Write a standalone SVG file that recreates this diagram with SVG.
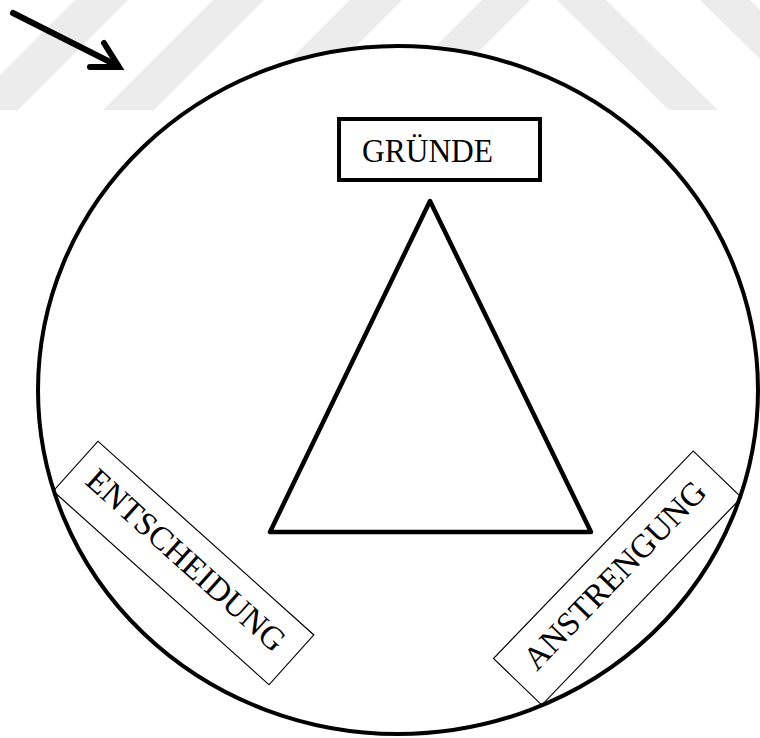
<svg xmlns="http://www.w3.org/2000/svg" width="760" height="738" viewBox="0 0 760 738">
  <style>
    .wm { fill: #ececec; stroke: none; }
    .thick { fill: none; stroke: #000; stroke-width: 4.5; stroke-linejoin: round; }
    .thin { fill: none; stroke: #000; stroke-width: 1.2; }
    .lbl { font-family: "Liberation Serif", "Times New Roman", serif; font-size: 33px; fill: #000; }
  </style>
  <rect width="760" height="738" fill="#fff"/>
  <g id="watermark">
    <polygon class="wm" points="75,0 128,0 18,110 -35,110"/>
    <polygon class="wm" points="213,0 264,0 154,110 103,110"/>
    <polygon class="wm" points="350,0 402,0 292,110 240,110"/>
    <polygon class="wm" points="482,0 530,0 420,110 372,110"/>
    <polygon class="wm" points="557,0 606,0 718,110 669,110"/>
    <polygon class="wm" points="700,0 750,0 862,110 812,110"/>
  </g>
  <g id="circle">
    <ellipse cx="398" cy="390" rx="360" ry="344" fill="#fff" stroke="#000" stroke-width="4"/>
  </g>
  <g id="connectors">
    <g id="arrow" fill="none" stroke="#000" stroke-width="6" stroke-linecap="round" stroke-linejoin="miter">
      <line x1="13" y1="13" x2="118" y2="66"/>
      <polyline points="104,43 119,67 90,67"/>
    </g>
  </g>
  <g id="triangle">
    <polygon class="thick" points="430,201 270,532 591,532"/>
  </g>
  <g id="gruende">
    <rect x="339" y="119" width="201" height="61" fill="#fff" stroke="#000" stroke-width="4"/>
    <text class="lbl" x="362" y="162" textLength="131" lengthAdjust="spacingAndGlyphs">GRÜNDE</text>
  </g>
  <g id="entscheidung" transform="translate(183.5,563) rotate(41.9)">
    <rect class="thin" x="-145" y="-33.5" width="290" height="67"/>
    <text class="lbl" x="0" y="7" text-anchor="middle">ENTSCHEIDUNG</text>
  </g>
  <g id="anstrengung" transform="translate(617.5,578) rotate(-46.1)">
    <rect class="thin" x="-144" y="-33.5" width="288" height="67"/>
    <text class="lbl" x="0" y="7" text-anchor="middle">ANSTRENGUNG</text>
  </g>
</svg>
